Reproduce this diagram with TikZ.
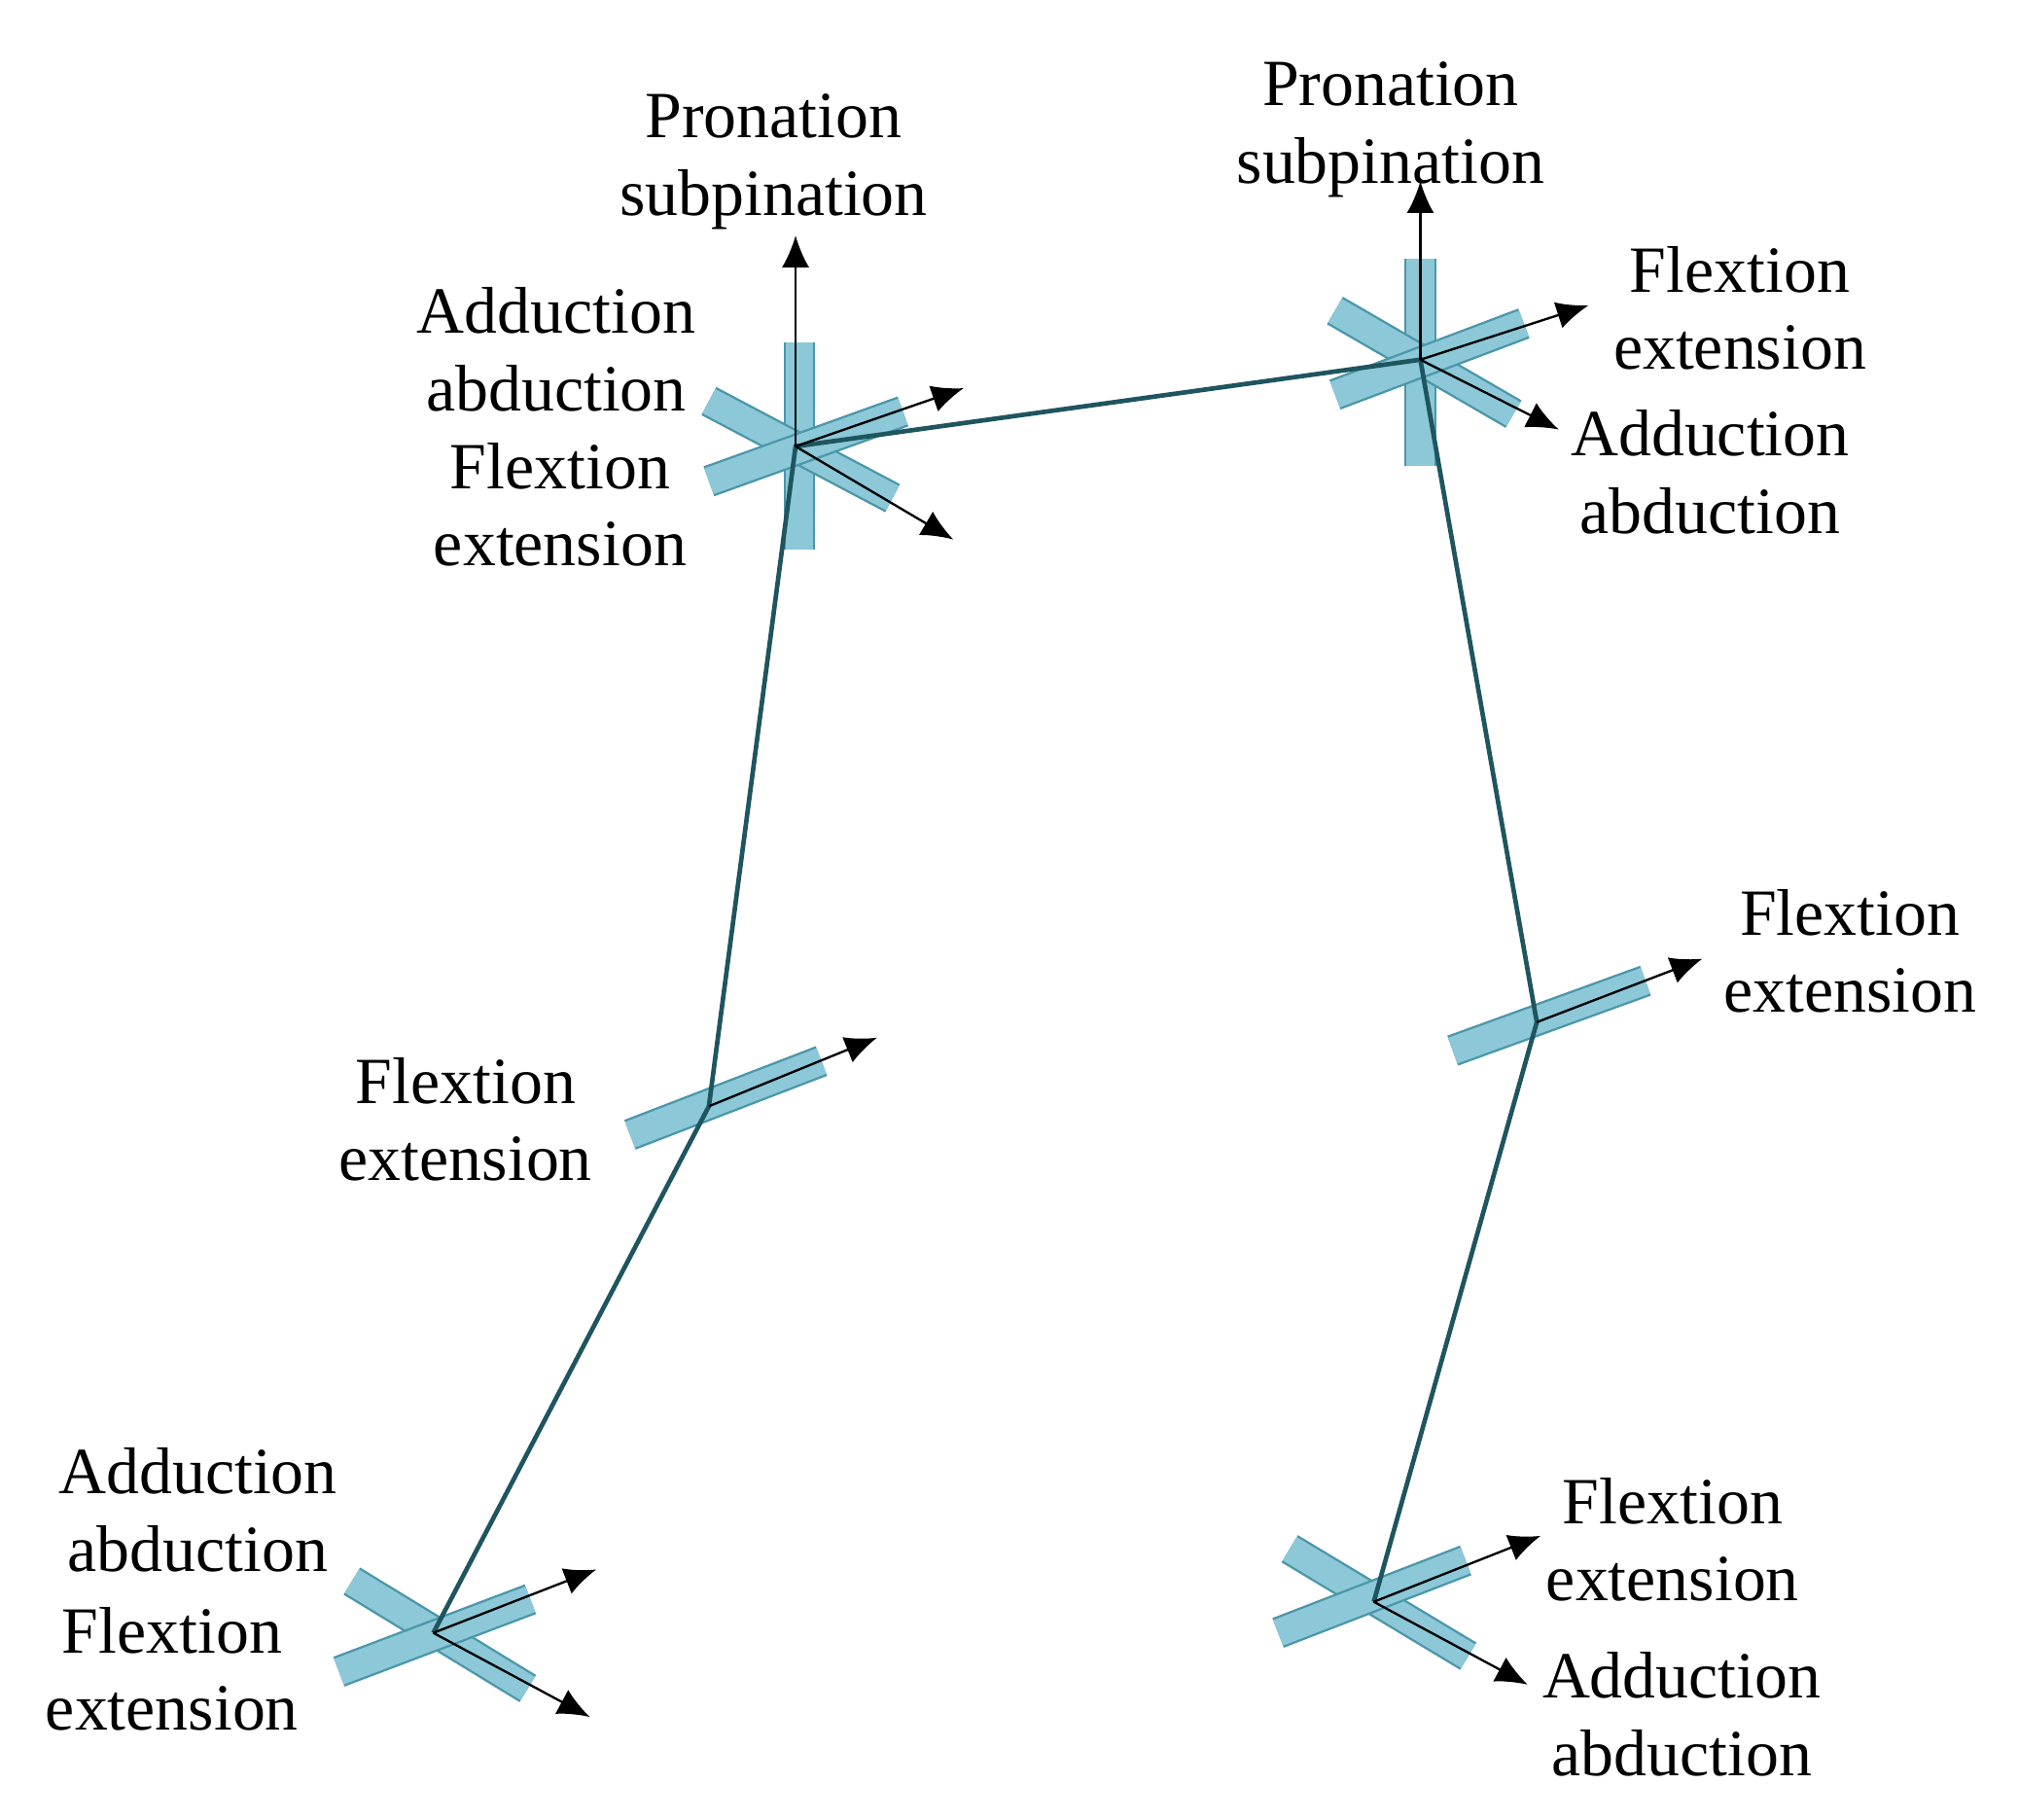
\documentclass[tikz,border=0pt]{standalone}
\usepackage{fontspec}
\setmainfont{Liberation Serif}
\usetikzlibrary{arrows.meta}
\definecolor{cylfill}{RGB}{140,200,215}
\definecolor{cyledge}{RGB}{75,150,170}
\definecolor{link}{RGB}{30,85,95}
\tikzset{
	cyl/.style={draw=cyledge,line width=0.5pt,double=cylfill,double distance=6pt},
	ax/.style={-{Latex[length=7pt,width=6pt]},black,line width=0.5pt},
	lbl/.style={align=center,font=\fontsize{14.5}{17}\selectfont,inner sep=0pt}
}
\begin{document}
\begin{tikzpicture}[x=0.01cm,y=-0.01cm]
	\useasboundingbox (0,0) rectangle (1560,1406);
	% joints
	\coordinate (s1) at (615,345);
	\coordinate (e1) at (548,855);
	\coordinate (f1) at (335,1262);
	\coordinate (s2) at (1098,278);
	\coordinate (e2) at (1188,790);
	\coordinate (f2) at (1062,1238);
	
	% cylinders
	\draw [cyl] (618,265) -- (618,425);
	\draw [cyl] (548,310) -- (690,385);
	\draw [cyl] (548,372) -- (698,318);
	\draw [cyl] (1098,200) -- (1098,360);
	\draw [cyl] (1032,240) -- (1170,320);
	\draw [cyl] (1032,305) -- (1178,250);
	\draw [cyl] (487,877) -- (635,820);
	\draw [cyl] (1123,812) -- (1272,758);
	\draw [cyl] (272,1222) -- (408,1305);
	\draw [cyl] (262,1292) -- (410,1236);
	\draw [cyl] (997,1197) -- (1135,1280);
	\draw [cyl] (988,1262) -- (1133,1206);
	
	% links
	\draw [link,line width=1pt] (f1) -- (e1) -- (s1) -- (s2) -- (e2) -- (f2);
	
	% axes
	\coordinate (s1a) at (615,182);
	\coordinate (s1b) at (745,300);
	\coordinate (s1c) at (737,417);
	\coordinate (s2a) at (1098,140);
	\coordinate (s2b) at (1228,236);
	\coordinate (s2c) at (1205,332);
	\coordinate (e1a) at (678,802);
	\coordinate (e2a) at (1316,741);
	\coordinate (f1a) at (461,1213);
	\coordinate (f1b) at (456,1327);
	\coordinate (f2a) at (1191,1187);
	\coordinate (f2b) at (1181,1302);
	\foreach \j/\t in {s1/s1a,s1/s1b,s1/s1c,s2/s2a,s2/s2b,s2/s2c,e1/e1a,e2/e2a,f1/f1a,f1/f1b,f2/f2a,f2/f2b}
		\draw [ax] (\j) -- (\t);
	
	% labels
	\node [lbl] (ps1) at (598,125) {Pronation\\subpination};
	\node [lbl] (ps2) at (1075,100) {Pronation\\subpination};
	\node [lbl] (aa1) at (430,270) {Adduction\\abduction};
	\node [lbl] (fe1) at (433,390) {Flextion\\extension};
	\node [lbl] (fe2) at (1345,238) {Flextion\\extension};
	\node [lbl] (aa2) at (1322,365) {Adduction\\abduction};
	\node [lbl] (fe3) at (360,865) {Flextion\\extension};
	\node [lbl] (fe4) at (1430,735) {Flextion\\extension};
	\node [lbl] (aa3) at (153,1167) {Adduction\\abduction};
	\node [lbl] (fe5) at (133,1290) {Flextion\\extension};
	\node [lbl] (fe6) at (1293,1190) {Flextion\\extension};
	\node [lbl] (aa4) at (1300,1325) {Adduction\\abduction};
\end{tikzpicture}
\end{document}
